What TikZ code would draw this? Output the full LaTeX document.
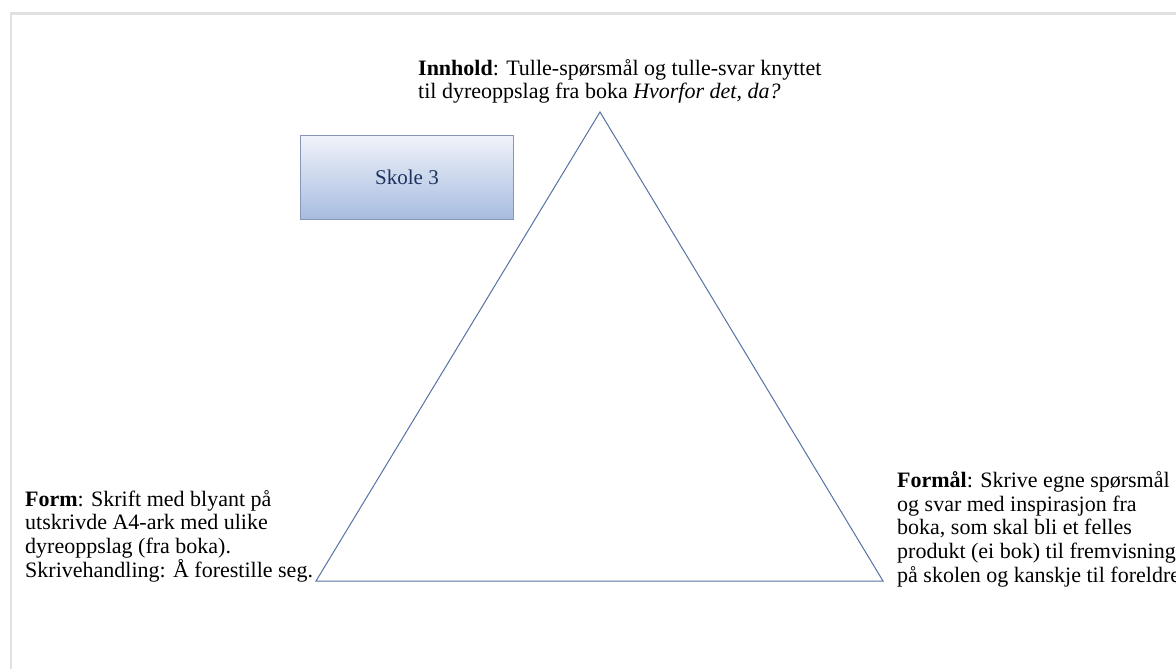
\documentclass[tikz,border=0pt]{standalone}
\usepackage{fontspec}
\setmainfont{Liberation Serif}
\definecolor{tri}{RGB}{85,115,165}
\definecolor{boxtop}{RGB}{240,243,249}
\definecolor{boxbot}{RGB}{168,188,224}
\definecolor{boxline}{RGB}{135,150,182}
\definecolor{boxtext}{RGB}{30,50,95}
\definecolor{frame}{RGB}{225,225,225}
\tikzset{
  lbl/.style={anchor=base west, inner sep=0pt, align=left, font=\fontsize{22}{23.6}\selectfont},
  schoolbox/.style={draw=boxline, line width=0.8pt, top color=boxtop, bottom color=boxbot,
    minimum width=213pt, minimum height=84pt, inner sep=0pt, text=boxtext,
    font=\fontsize{21}{24}\selectfont},
  triline/.style={draw=tri, line width=1pt, line join=miter},
}
\begin{document}
\begin{tikzpicture}[x=1pt,y=-1pt]
\clip (0,0) rectangle (1176,669);
\fill[white] (0,0) rectangle (1176,669);
\draw[frame, line width=2.5pt] (11,700) -- (11,13.5) -- (1200,13.5);
% triangle
\coordinate (apex) at (600,112);
\coordinate (bl) at (316,581);
\coordinate (br) at (883,581);
\draw[triline] (apex) -- (bl) -- (br) -- cycle;
% box
\node[schoolbox] (skole) at (407,177) {Skole 3};
% labels (base anchor = baseline of last line)
\node[lbl] (innhold) at (418,99) {\textbf{Innhold}: Tulle-spørsmål og tulle-svar knyttet\\til dyreoppslag fra boka \textit{Hvorfor det, da?}};
\node[lbl] (form) at (25,577) {\textbf{Form}: Skrift med blyant på\\utskrivde A4-ark med ulike\\dyreoppslag (fra boka).\\Skrivehandling: Å forestille seg.};
\node[lbl] (formaal) at (897,582) {\textbf{Formål}: Skrive egne spørsmål\\og svar med inspirasjon fra\\boka, som skal bli et felles\\produkt (ei bok) til fremvisning\\på skolen og kanskje til foreldre};
\end{tikzpicture}
\end{document}
